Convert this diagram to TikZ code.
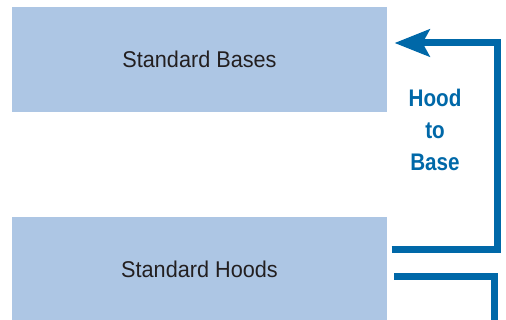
\documentclass[tikz,border=0pt]{standalone}
\usepackage{fontspec}
\setmainfont{Liberation Sans}
\newfontfamily\condfont{Liberation Sans}[FakeStretch=0.86]
\newfontfamily\boxfont{Liberation Sans}[FakeStretch=0.95]
\usetikzlibrary{arrows.meta}
\definecolor{boxblue}{HTML}{ADC6E4}
\definecolor{flowblue}{HTML}{0068A8}
\definecolor{txtgray}{HTML}{231F20}
\begin{document}
\begin{tikzpicture}[x=1pt,y=-1pt,
  box/.style={fill=boxblue, draw=none, minimum width=375pt, minimum height=105pt, inner sep=0pt,
    text=txtgray, font=\boxfont\fontsize{22.8}{26}\selectfont},
  flow/.style={draw=flowblue, line width=7pt, line join=miter},
  lbl/.style={text=flowblue, font=\condfont\bfseries\fontsize{24}{32}\selectfont, align=center}]
\useasboundingbox (0,0) rectangle (506,320);
\node[box] (bases) at (199.5,59.5) {Standard Bases};
\node[box] (hoods) at (199.5,269.5) {Standard Hoods};
\coordinate (a1s) at (391.5,249.5);
\coordinate (a1c1) at (497,249.5);
\coordinate (a1c2) at (497,43);
\coordinate (a1e) at (394.5,43);
\draw[flow, -{Stealth[length=35pt,width=27pt,inset=7pt]}] (a1s) -- (a1c1) -- (a1c2) -- (a1e);
\coordinate (a2s) at (394,277);
\coordinate (a2c) at (494.5,277);
\coordinate (a2e) at (494.5,325);
\draw[flow] (a2s) -- (a2c) -- (a2e);
\node[lbl] (hb) at (435,130) {Hood\\to\\Base};
\end{tikzpicture}
\end{document}
